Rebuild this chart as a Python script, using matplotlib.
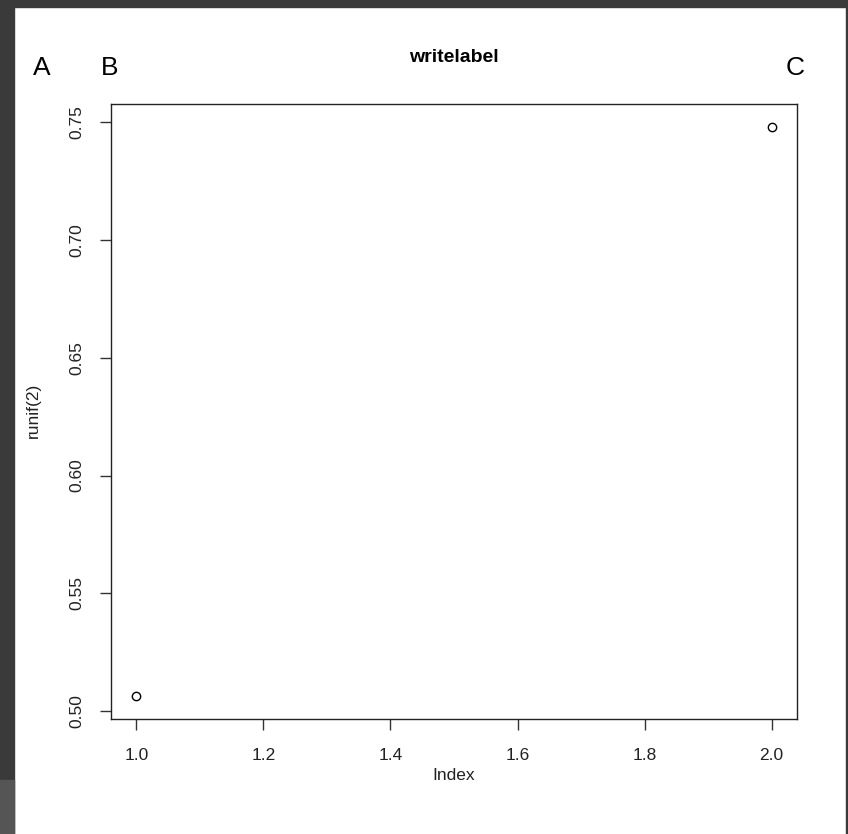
import matplotlib
matplotlib.use("Agg")
import matplotlib.pyplot as plt
from matplotlib.patches import Rectangle

# data
idx = [1, 2]
vals = [0.5064, 0.7479]
xticks = [1.0, 1.2, 1.4, 1.6, 1.8, 2.0]
yticks = [0.50, 0.55, 0.60, 0.65, 0.70, 0.75]

W, H = 848, 834
plt.rcParams["font.family"] = ["Liberation Sans", "DejaVu Sans"]
fig = plt.figure(figsize=(W / 100, H / 100), dpi=100)
fig.patch.set_facecolor("white")

# dark window frame around the R device
def px_rect(x0, y0, w, h, c):
    fig.patches.append(Rectangle((x0 / W, 1 - (y0 + h) / H), w / W, h / H,
                                 transform=fig.transFigure, color=c, zorder=-5))
px_rect(0, 0, W, 7, "#3a3a3a")
px_rect(0, 0, 14, H, "#3a3a3a")
px_rect(0, 780, 14, H - 780, "#555555")
px_rect(846, 0, 2, H, "#3a3a3a")

L, R_, T, B = 111, 797, 104, 719
ax = fig.add_axes([L / W, 1 - B / H, (R_ - L) / W, (B - T) / H])
ax.plot(idx, vals, "o", mfc="none", mec="black", ms=6, mew=1)

pad = 0.04
ax.set_xlim(1 - pad, 2 + pad)
yr = max(vals) - min(vals)
ax.set_ylim(min(vals) - pad * yr, max(vals) + pad * yr)
ax.set_xticks(xticks)
ax.set_xticklabels([f"{v:.1f}" for v in xticks])
ax.set_yticks(yticks)
ax.set_yticklabels([f"{v:.2f}" for v in yticks], rotation=90, va="center")
ax.tick_params(length=8, width=1, color="#333333", labelsize=12.5,
               labelcolor="#222222")
ax.tick_params(axis="x", pad=13)
ax.tick_params(axis="y", pad=11)
for s in ax.spines.values():
    s.set_color("#222222")
    s.set_linewidth(1)

def ftext(x, y, s, **kw):
    fig.text(x / W, 1 - y / H, s, ha="center", va="center", **kw)

ftext(454, 57, "writelabel", fontsize=14, fontweight="bold")
ftext(42, 68, "A", fontsize=19)
ftext(110, 68, "B", fontsize=19)
ftext(795, 68, "C", fontsize=19)
ftext(454, 775, "Index", fontsize=12.5, color="#222222")
ftext(33, 410, "runif(2)", fontsize=12.5, rotation=90, color="#222222")

fig.savefig("out.png", dpi=100)
